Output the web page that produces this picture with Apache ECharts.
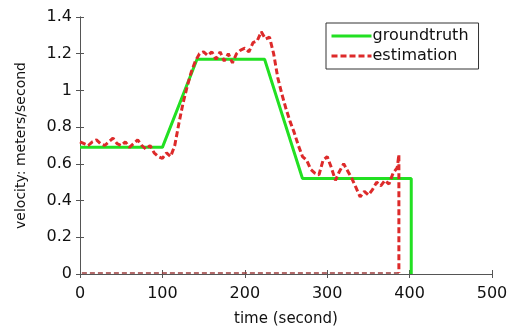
<!DOCTYPE html>
<html>
<head>
<meta charset="utf-8">
<script src="https://cdn.jsdelivr.net/npm/echarts@6/dist/echarts.min.js"></script>
<style>
  html, body { margin: 0; padding: 0; background: #fff; }
  #chart { width: 515px; height: 332px; }
</style>
</head>
<body>
<div id="chart"></div>
<script>
// ground truth velocity (time s, m/s)
var gtTime = [0, 100, 142, 224, 270, 402, 402];
var gtVel = [0.69, 0.69, 1.17, 1.17, 0.52, 0.52, 0];

// estimated velocity
var estTime = [0, 5, 10, 15, 20, 25, 30, 35, 40, 45, 50, 55, 60, 65, 70, 75, 80, 85, 90, 95, 100, 105, 110, 115, 120, 125, 130, 135, 140, 145, 150, 155, 160, 165, 170, 175, 180, 185, 190, 195, 200, 205, 210, 215, 220, 225, 230, 235, 240, 245, 250, 255, 260, 265, 270, 275, 280, 285, 290, 295, 300, 305, 310, 315, 320, 325, 330, 335, 340, 345, 350, 355, 360, 365, 370, 375, 380, 385, 387, 387];
var estVel = [0.72, 0.71, 0.70, 0.72, 0.73, 0.71, 0.70, 0.72, 0.74, 0.71, 0.70, 0.72, 0.69, 0.71, 0.73, 0.70, 0.68, 0.70, 0.66, 0.64, 0.63, 0.66, 0.64, 0.70, 0.82, 0.93, 1.02, 1.10, 1.16, 1.20, 1.21, 1.19, 1.21, 1.17, 1.21, 1.16, 1.20, 1.15, 1.20, 1.22, 1.23, 1.21, 1.26, 1.27, 1.32, 1.28, 1.29, 1.20, 1.07, 0.98, 0.90, 0.83, 0.77, 0.70, 0.64, 0.62, 0.57, 0.55, 0.54, 0.62, 0.64, 0.58, 0.51, 0.56, 0.60, 0.56, 0.52, 0.47, 0.42, 0.45, 0.43, 0.46, 0.50, 0.48, 0.51, 0.49, 0.55, 0.58, 0.65, 0.005];

// estimation returning along the bottom
var baseTime = [387, 0];
var baseVel = [0.005, 0.005];

function pairs(xs, ys) {
    return xs.map(function (x, i) { return [x, ys[i]]; });
}

var chart = echarts.init(document.getElementById('chart'));
var font = 'DejaVu Sans, Liberation Sans, sans-serif';

chart.setOption({
    animation: false,
    grid: { left: 80, right: 23, top: 17, bottom: 54 },
    legend: {
        data: ['groundtruth', 'estimation'],
        orient: 'vertical',
        left: 326,
        top: 23,
        padding: [5, 10, 5, 4],
        itemGap: 4,
        itemWidth: 40,
        itemHeight: 14,
        itemStyle: { opacity: 0 },
        lineStyle: { width: 3 },
        borderColor: '#333',
        borderWidth: 1,
        backgroundColor: '#fff',
        textStyle: { fontFamily: font, fontSize: 16, color: '#111', padding: [0, 0, 0, -4] }
    },
    xAxis: [
        {
            type: 'value', min: 0, max: 500, interval: 100,
            name: 'time (second)', nameLocation: 'middle', nameGap: 38,
            nameTextStyle: { fontFamily: font, fontSize: 15, color: '#111' },
            axisLine: { lineStyle: { color: '#555' } },
            axisTick: { inside: true, length: 4, lineStyle: { color: '#555' } },
            axisLabel: { fontFamily: font, fontSize: 16, color: '#111', margin: 12 },
            splitLine: { show: false }
        },
        {
            type: 'value', min: 0, max: 500, interval: 100, position: 'top',
            axisLine: { show: true, lineStyle: { color: '#555' } },
            axisTick: { inside: true, length: 4, lineStyle: { color: '#555' } },
            axisLabel: { show: false },
            splitLine: { show: false }
        }
    ],
    yAxis: [
        {
            type: 'value', min: 0, max: 1.4, interval: 0.2,
            name: 'velocity: meters/second', nameLocation: 'middle', nameGap: 52,
            nameTextStyle: { fontFamily: font, fontSize: 14, color: '#111' },
            axisLine: { show: true, lineStyle: { color: '#555' } },
            axisTick: { inside: true, length: 4, lineStyle: { color: '#555' } },
            axisLabel: { fontFamily: font, fontSize: 16, color: '#111', margin: 8 },
            splitLine: { show: false }
        },
        {
            type: 'value', min: 0, max: 1.4, interval: 0.2, position: 'right',
            axisLine: { show: true, lineStyle: { color: '#555' } },
            axisTick: { inside: true, length: 4, lineStyle: { color: '#555' } },
            axisLabel: { show: false },
            splitLine: { show: false }
        }
    ],
    series: [
        {
            name: 'baseline',
            type: 'line',
            data: pairs(baseTime, baseVel),
            symbol: 'none',
            lineStyle: { color: '#9a3b3b', width: 1.5, type: [5, 3] },
            z: 1
        },
        {
            name: 'groundtruth',
            type: 'line',
            data: pairs(gtTime, gtVel),
            symbol: 'none',
            color: '#22e022',
            lineStyle: { color: '#22e022', width: 3 },
            z: 2
        },
        {
            name: 'estimation',
            type: 'line',
            data: pairs(estTime, estVel),
            symbol: 'none',
            color: '#dd2a2a',
            lineStyle: { color: '#dd2a2a', width: 3, type: [6, 3] },
            z: 3
        }
    ]
});
</script>
</body>
</html>
